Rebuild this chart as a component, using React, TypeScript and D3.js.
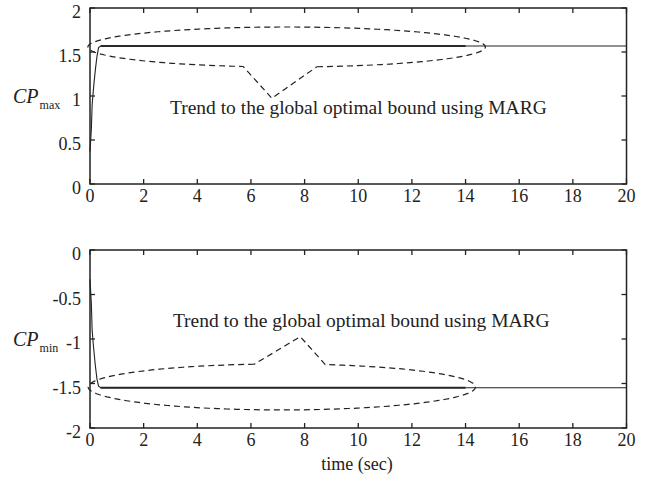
import React from "react";
import * as d3 from "d3";

// ---- data ----
const xTicks = [0, 2, 4, 6, 8, 10, 12, 14, 16, 18, 20];
const topYTicks = [0, 0.5, 1, 1.5, 2];
const botYTicks = [-2, -1.5, -1, -0.5, 0];

// CP_max trajectory (time, value)
const maxTime = [0, 0.05, 0.08, 0.12, 0.16, 0.2, 0.26, 0.32, 0.4, 20];
const maxVal = [0.37, 0.62, 0.9, 1.05, 1.18, 1.3, 1.45, 1.55, 1.568, 1.568];
// overlapping optimal-bound segment (ends at 14 s)
const maxBoundTime = [0.4, 14];
const maxBoundVal = [1.568, 1.568];

// CP_min trajectory
const minTime = [0, 0.05, 0.08, 0.12, 0.16, 0.2, 0.26, 0.32, 0.4, 20];
const minVal = [-0.33, -0.6, -0.9, -1.05, -1.18, -1.3, -1.45, -1.53, -1.548, -1.548];
const minBoundTime = [0.4, 14];
const minBoundVal = [-1.548, -1.548];

// annotation ellipses: [cx, cy, rx, ry] in data units, callout break points and tip
const topEllipse = [7.33, 1.557, 7.41, 0.227];
const topCallout = [5.71, 6.78, 0.974, 8.46]; // breakStart t, tip t, tip value, breakEnd t
const botEllipse = [7.15, -1.539, 7.22, 0.258];
const botCallout = [6.12, 7.84, -0.974, 8.77];

const annotation = "Trend to the global optimal bound using MARG";
const topAnnPos = [2.98, 0.795];
const botAnnPos = [3.09, -0.865];

const W = 646;
const H = 477;
const FONT = "Liberation Serif, Times New Roman, Times, serif";

function ellipsePath(
  x: d3.ScaleLinear<number, number>,
  y: d3.ScaleLinear<number, number>,
  e: number[],
  c: number[],
  side: "bottom" | "top"
) {
  const [cx, cy, rx, ry] = e;
  const [tA, tipT, tipV, tB] = c;
  let th0: number, th1: number;
  if (side === "bottom") {
    th0 = -Math.acos((tB - cx) / rx);
    th1 = 2 * Math.PI - Math.acos((tA - cx) / rx);
  } else {
    th0 = Math.acos((tA - cx) / rx);
    th1 = 2 * Math.PI + Math.acos((tB - cx) / rx);
  }
  const n = 120;
  const pts: [number, number][] = [];
  for (let i = 0; i <= n; i++) {
    const th = th0 + ((th1 - th0) * i) / n;
    pts.push([x(cx + rx * Math.cos(th)), y(cy + ry * Math.sin(th))]);
  }
  pts.push([x(tipT), y(tipV)]);
  pts.push(pts[0]);
  return d3.line()(pts) || "";
}

const txt = { fontFamily: FONT, fill: "#222" } as React.CSSProperties;

function Panel({
  yDomain,
  yRange,
  yTicks,
  time,
  vals,
  bTime,
  bVals,
  ell,
  call,
  side,
  annPos,
  sub,
}: any) {
  const x = d3.scaleLinear().domain([0, 20]).range([90, 626.5]);
  const y = d3.scaleLinear().domain(yDomain).range(yRange);
  const x0 = x.range()[0];
  const x1 = x.range()[1];
  const yb = y.range()[0];
  const yt = y.range()[1];
  const line = d3
    .line<number>()
    .x((_, i) => x(time[i]))
    .y((d) => y(d));
  const bline = d3
    .line<number>()
    .x((_, i) => x(bTime[i]))
    .y((d) => y(d));
  const tl = 5;
  const yMid = (yb + yt) / 2;
  return (
    <g>
      <path d={bline(bVals) || ""} fill="none" stroke="#333" strokeWidth={1.9} />
      <path d={line(vals) || ""} fill="none" stroke="#222" strokeWidth={1.1} />
      <path
        d={ellipsePath(x, y, ell, call, side)}
        fill="none"
        stroke="#222"
        strokeWidth={1.2}
        strokeDasharray="6,4"
      />
      <rect x={x0} y={yt} width={x1 - x0} height={yb - yt} fill="none" stroke="#222" strokeWidth={1.5} />
      {xTicks.map((t) => (
        <g key={"x" + t}>
          <line x1={x(t)} x2={x(t)} y1={yb} y2={yb - tl} stroke="#222" strokeWidth={1.3} />
          <line x1={x(t)} x2={x(t)} y1={yt} y2={yt + tl} stroke="#222" strokeWidth={1.3} />
          <text x={x(t)} y={yb + 18} textAnchor="middle" fontSize={18} style={txt}>
            {t}
          </text>
        </g>
      ))}
      {yTicks.map((t: number) => (
        <g key={"y" + t}>
          <line x1={x0} x2={x0 + tl} y1={y(t)} y2={y(t)} stroke="#222" strokeWidth={1.3} />
          <line x1={x1} x2={x1 - tl} y1={y(t)} y2={y(t)} stroke="#222" strokeWidth={1.3} />
          <text x={81} y={y(t) + 10} textAnchor="end" fontSize={18} style={txt}>
            {String(t)}
          </text>
        </g>
      ))}
      <text x={13} y={yMid + 7} style={txt}>
        <tspan fontStyle="italic" fontSize={20}>CP</tspan>
        <tspan fontSize={12} dx={1} dy={6}>{sub}</tspan>
      </text>
      <text x={x(annPos[0])} y={y(annPos[1])} fontSize={19.5} style={txt}>
        {annotation}
      </text>
    </g>
  );
}

export default function App() {
  return (
    <svg
      width={W}
      height={H}
      viewBox={`0 0 ${W} ${H}`}
      style={{ position: "absolute", left: 0, top: 0, background: "#fff" }}
    >
      <rect width={W} height={H} fill="#fff" />
      <Panel
        yDomain={[0, 2]}
        yRange={[184, 8]}
        yTicks={topYTicks}
        time={maxTime}
        vals={maxVal}
        bTime={maxBoundTime}
        bVals={maxBoundVal}
        ell={topEllipse}
        call={topCallout}
        side="bottom"
        annPos={topAnnPos}
        sub="max"
      />
      <Panel
        yDomain={[-2, 0]}
        yRange={[428, 250]}
        yTicks={botYTicks}
        time={minTime}
        vals={minVal}
        bTime={minBoundTime}
        bVals={minBoundVal}
        ell={botEllipse}
        call={botCallout}
        side="top"
        annPos={botAnnPos}
        sub="min"
      />
      <text x={357} y={470} textAnchor="middle" fontSize={18} style={txt}>
        time (sec)
      </text>
    </svg>
  );
}
